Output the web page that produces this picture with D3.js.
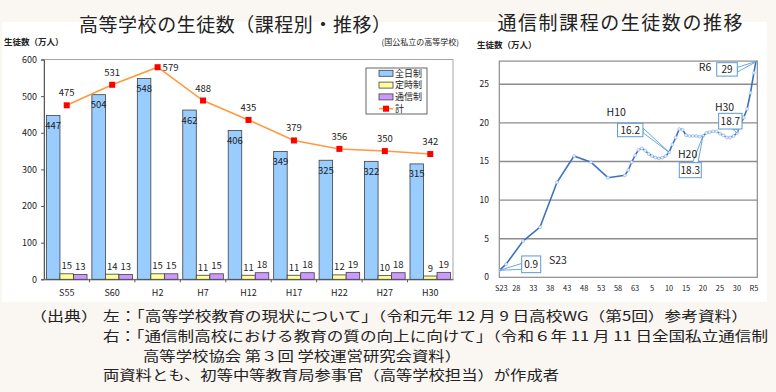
<!DOCTYPE html>
<html>
<head>
<meta charset="utf-8">
<script src="https://cdn.jsdelivr.net/npm/d3@7"></script>
<style>
body { margin: 0; background: #faf6f2; }
svg { display: block; }
text { font-family: "Noto Sans CJK JP", "Noto Sans", sans-serif; fill: #222; }
</style>
</head>
<body>
<div id="chart"></div>
<script>
// left chart: students by course
var periods = ['S55', 'S60', 'H2', 'H7', 'H12', 'H17', 'H22', 'H27', 'H30'];
var fullTime = [447, 504, 548, 462, 406, 349, 325, 322, 315];
var partTime = [15, 14, 15, 11, 11, 11, 12, 10, 9];
var corresp = [13, 13, 15, 15, 18, 18, 19, 18, 19];
var totals = [475, 531, 579, 488, 435, 379, 356, 350, 342];
var leftTicks = [0, 100, 200, 300, 400, 500, 600];
var seriesNames = ['全日制', '定時制', '通信制'];
var totalName = '計';

// right chart: correspondence course students (万人)
var years = [1948, 1950, 1955, 1960, 1965, 1970, 1975, 1980, 1985, 1986, 1987, 1988, 1989,
    1990, 1991, 1992, 1993, 1994, 1995, 1996, 1997, 1998, 1999, 2000, 2001, 2002, 2003,
    2004, 2005, 2006, 2007, 2008, 2009, 2010, 2011, 2012, 2013, 2014, 2015, 2016, 2017,
    2018, 2019, 2020, 2021, 2022, 2023, 2024];
var students = [0.9, 1.7, 4.7, 6.5, 12.3, 15.7, 14.9, 12.9, 13.2, 13.9, 14.9, 15.8, 16.5,
    16.7, 16.4, 16.0, 15.7, 15.5, 15.4, 15.5, 15.7, 16.2, 17.2, 18.1, 19.2, 19.1, 18.4,
    18.3, 18.3, 18.3, 18.2, 18.3, 18.7, 18.8, 18.9, 18.9, 18.6, 18.4, 18.1, 18.1, 18.3,
    18.7, 19.7, 20.7, 21.8, 23.9, 26.5, 29.0];
var yearTicks = [1948, 1953, 1958, 1963, 1968, 1973, 1978, 1983, 1988, 1993, 1998, 2003, 2008, 2013, 2018, 2023];
var yearTickLabels = ['S23', '28', '33', '38', '43', '48', '53', '58', '63', '5', '10', '15', '20', '25', '30', 'R5'];
var rightTicks = [0, 5, 10, 15, 20, 25];
var calloutYears = [1948, 1998, 2008, 2018, 2024];
var calloutNames = ['S23', 'H10', 'H20', 'H30', 'R6'];
var calloutValues = ['0.9', '16.2', '18.3', '18.7', '29'];

var sources = [
    '（出典）',
    '左：「高等学校教育の現状について」（令和元年 12 月 9 日高校WG（第5回）参考資料）',
    '右：「通信制高校における教育の質の向上に向けて」（令和６年 11 月 11 日全国私立通信制',
    '高等学校協会 第３回 学校運営研究会資料）',
    '両資料とも、初等中等教育局参事官（高等学校担当）が作成者'
];

var width = 776;
var height = 392;

var svg = d3.select('#chart').append('svg')
    .attr('width', width)
    .attr('height', height);

svg.append('rect')
    .attr('width', width).attr('height', height)
    .attr('fill', '#faf6f2');

svg.append('rect')
    .attr('x', 2).attr('y', 22)
    .attr('width', 765).attr('height', 280)
    .attr('fill', '#ffffff');

// ---------- left chart ----------
var colors = ['#99ccff', '#ffff99', '#cc99ff'];
var barValues = [fullTime, partTime, corresp];

var lx = d3.scaleBand().domain(periods).range([44, 453]);
var sub = d3.scaleBand().domain(seriesNames).range([0, lx.bandwidth()]).paddingOuter(0.18);
var ly = d3.scaleLinear().domain([0, 600]).range([279.3, 59.5]);

svg.append('text')
    .attr('x', 235).attr('y', 32)
    .attr('text-anchor', 'middle')
    .attr('font-size', 19)
    .attr('textLength', 312)
    .text('高等学校の生徒数（課程別・推移）');

svg.append('text')
    .attr('x', 4).attr('y', 45)
    .attr('font-size', 8.5)
    .attr('font-weight', 'bold')
    .attr('fill', '#444')
    .text('生徒数（万人）');

svg.append('text')
    .attr('x', 459).attr('y', 45)
    .attr('text-anchor', 'end')
    .attr('font-size', 8)
    .text('(国公私立の高等学校)');

// plot frame
svg.append('rect')
    .attr('x', 44).attr('y', ly(600))
    .attr('width', 453 - 44).attr('height', ly(0) - ly(600))
    .attr('fill', 'none')
    .attr('stroke', '#a6a6a6');

var leftAxis = svg.append('g')
    .attr('transform', 'translate(44,0)')
    .call(d3.axisLeft(ly).tickValues(leftTicks).tickSize(3).tickPadding(4));
leftAxis.select('.domain').attr('stroke', '#595959');
leftAxis.selectAll('line').attr('stroke', '#595959');
leftAxis.selectAll('text').attr('font-size', 9).attr('fill', '#333')
    .attr('font-family', '"DejaVu Sans Condensed", "DejaVu Sans", sans-serif');

var bottomAxis = svg.append('g')
    .attr('transform', `translate(0,${ly(0)})`)
    .call(d3.axisBottom(lx).tickSize(0).tickPadding(10));
bottomAxis.select('.domain').attr('stroke', '#595959');
bottomAxis.selectAll('text').attr('font-size', 9).attr('fill', '#333')
    .attr('font-family', '"DejaVu Sans Condensed", "DejaVu Sans", sans-serif');

// tick marks between groups
svg.append('g').selectAll('line')
    .data(periods.slice(1))
    .enter()
    .append('line')
    .attr('x1', (d) => lx(d)).attr('x2', (d) => lx(d))
    .attr('y1', ly(0)).attr('y2', ly(0) + 3)
    .attr('stroke', '#595959');

for (let s = 0; s < 3; s++) {
    let g = svg.append('g');
    g.selectAll('rect')
        .data(periods)
        .enter()
        .append('rect')
        .attr('x', (d) => lx(d) + sub(seriesNames[s]))
        .attr('y', (d, i) => ly(barValues[s][i]))
        .attr('width', sub.bandwidth())
        .attr('height', (d, i) => ly(0) - ly(barValues[s][i]))
        .attr('fill', colors[s])
        .attr('stroke', '#404040')
        .attr('stroke-width', 0.8);

    g.selectAll('text')
        .data(periods)
        .enter()
        .append('text')
        .attr('x', (d) => lx(d) + sub(seriesNames[s]) + sub.bandwidth() / 2)
        .attr('y', (d, i) => s == 0 ? ly(barValues[s][i]) + 13.5 : ly(barValues[s][i]) - 4.5)
        .attr('text-anchor', 'middle')
        .attr('font-size', 9.5)
        .attr('font-family', '"DejaVu Sans Condensed", "DejaVu Sans", sans-serif')
        .attr('fill', '#222')
        .text((d, i) => barValues[s][i]);
}

// total line
var cx = (d) => lx(d) + lx.bandwidth() / 2;
var maxIndex = totals.indexOf(d3.max(totals));

svg.append('path')
    .datum(periods)
    .attr('d', d3.line().x((d) => cx(d)).y((d, i) => ly(totals[i])))
    .attr('fill', 'none')
    .attr('stroke', '#ff9940')
    .attr('stroke-width', 1.5);

svg.append('g').selectAll('rect')
    .data(periods)
    .enter()
    .append('rect')
    .attr('x', (d) => cx(d) - 3)
    .attr('y', (d, i) => ly(totals[i]) - 3)
    .attr('width', 6).attr('height', 6)
    .attr('fill', '#ff0000');

svg.append('g').selectAll('text')
    .data(periods)
    .enter()
    .append('text')
    .attr('x', (d, i) => i == maxIndex ? cx(d) + 5 : cx(d))
    .attr('y', (d, i) => i == maxIndex ? ly(totals[i]) + 3.5 : ly(totals[i]) - 9)
    .attr('text-anchor', (d, i) => i == maxIndex ? 'start' : 'middle')
    .attr('font-size', 9.5)
    .attr('font-family', '"DejaVu Sans Condensed", "DejaVu Sans", sans-serif')
    .text((d, i) => totals[i]);

// legend
var legend = svg.append('g');
legend.append('rect')
    .attr('x', 366).attr('y', 68)
    .attr('width', 61).attr('height', 46)
    .attr('fill', '#fff')
    .attr('stroke', '#404040')
    .attr('stroke-width', 0.8);

var legendNames = seriesNames.concat([totalName]);
legendNames.forEach(function (name, i) {
    let yy = 73.3 + i * 11.8;
    if (i < 3) {
        legend.append('rect')
            .attr('x', 379).attr('y', yy - 3)
            .attr('width', 14).attr('height', 6)
            .attr('fill', colors[i])
            .attr('stroke', '#404040')
            .attr('stroke-width', 0.8);
    } else {
        legend.append('line')
            .attr('x1', 379).attr('x2', 393)
            .attr('y1', yy).attr('y2', yy)
            .attr('stroke', '#ff9940').attr('stroke-width', 1.5);
        legend.append('rect')
            .attr('x', 383).attr('y', yy - 3)
            .attr('width', 6).attr('height', 6)
            .attr('fill', '#ff0000');
    }
    legend.append('text')
        .attr('x', 395).attr('y', yy + 3.3)
        .attr('font-size', 9)
        .text(name);
});

// ---------- right chart ----------
var rx = d3.scaleLinear().domain([1948, 2024]).range([499.3, 757.3]);
var ry = d3.scaleLinear().domain([0, 28]).range([277.3, 61.1]);

svg.append('text')
    .attr('x', 620).attr('y', 30)
    .attr('text-anchor', 'middle')
    .attr('font-size', 19)
    .attr('textLength', 245)
    .text('通信制課程の生徒数の推移');

svg.append('text')
    .attr('x', 477).attr('y', 48)
    .attr('font-size', 8.5)
    .attr('font-weight', 'bold')
    .attr('fill', '#444')
    .text('生徒数（万人）');

svg.append('g').selectAll('line')
    .data(rightTicks.slice(1))
    .enter()
    .append('line')
    .attr('x1', rx(1948)).attr('x2', rx(2024))
    .attr('y1', (d) => ry(d)).attr('y2', (d) => ry(d))
    .attr('stroke', '#8c8c8c')
    .attr('stroke-width', 1.4);

svg.append('rect')
    .attr('x', rx(1948)).attr('y', ry(28))
    .attr('width', rx(2024) - rx(1948)).attr('height', ry(0) - ry(28))
    .attr('fill', 'none')
    .attr('stroke', '#8c8c8c')
    .attr('stroke-width', 1.2);

svg.append('g').selectAll('text')
    .data(rightTicks)
    .enter()
    .append('text')
    .attr('x', 489)
    .attr('y', (d) => ry(d) + 3)
    .attr('text-anchor', 'end')
    .attr('font-size', 8.5)
    .attr('font-family', '"DejaVu Sans Condensed", "DejaVu Sans", sans-serif')
    .attr('fill', '#333')
    .text((d) => d);

svg.append('g').selectAll('text')
    .data(yearTicks)
    .enter()
    .append('text')
    .attr('x', (d) => rx(d) + (d == 1948 ? 2 : 0))
    .attr('y', 291)
    .attr('text-anchor', 'middle')
    .attr('font-size', 7.4)
    .attr('font-family', '"DejaVu Sans Condensed", "DejaVu Sans", sans-serif')
    .attr('fill', '#333')
    .text((d, i) => yearTickLabels[i]);

svg.append('clipPath').attr('id', 'rclip')
    .append('rect')
    .attr('x', rx(1948)).attr('y', ry(28))
    .attr('width', rx(2024) - rx(1948)).attr('height', ry(0) - ry(28));

var rline = svg.append('g').attr('clip-path', 'url(#rclip)');
rline.append('path')
    .datum(years)
    .attr('d', d3.line().x((d) => rx(d)).y((d, i) => ry(students[i])))
    .attr('fill', 'none')
    .attr('stroke', '#3d72c0')
    .attr('stroke-width', 1.6);

rline.selectAll('circle')
    .data(years)
    .enter()
    .append('circle')
    .attr('cx', (d) => rx(d))
    .attr('cy', (d, i) => ry(students[i]))
    .attr('r', 1.5)
    .attr('fill', '#e6f0fa')
    .attr('stroke', '#8fb4e3')
    .attr('stroke-width', 0.6);

// callouts: box offset from point, name offset, pointer side
var calloutLayout = [
    { bx: 22.4, by: -14.4, bw: 19, bh: 16.7, nx: 58.7, ny: -10.4, side: 'left' },
    { bx: -51.5, by: -28.9, bw: 25.4, bh: 13.4, nx: -52.8, ny: -40.5, side: 'right' },
    { bx: -23.7, by: 26.7, bw: 22, bh: 15, nx: -15.4, ny: 18.3, side: 'top' },
    { bx: -18.3, by: -19.6, bw: 23.4, bh: 15.7, nx: -12.4, ny: -25.6, side: 'bottom' },
    { bx: -40.6, by: 1.6, bw: 20.6, bh: 13.4, nx: -52.3, ny: 6, side: 'right' }
];

calloutYears.forEach(function (yr, i) {
    let idx = years.indexOf(yr);
    let px = rx(yr);
    let py = ry(Math.min(students[idx], 28));
    let L = calloutLayout[i];
    let x0 = px + L.bx, y0 = py + L.by;
    let base;
    if (L.side == 'left') base = [[x0, y0 + L.bh * 0.45], [x0, y0 + L.bh * 0.8]];
    else if (L.side == 'right') base = [[x0 + L.bw, y0 + L.bh * 0.35], [x0 + L.bw, y0 + L.bh * 0.7]];
    else if (L.side == 'top') base = [[x0 + L.bw * 0.6, y0], [x0 + L.bw * 0.85, y0]];
    else base = [[x0 + L.bw * 0.6, y0 + L.bh], [x0 + L.bw * 0.85, y0 + L.bh]];

    let g = svg.append('g');
    g.append('polygon')
        .attr('points', [[px, py], base[0], base[1]].map((p) => p.join(',')).join(' '))
        .attr('fill', '#fff')
        .attr('stroke', '#5b9bd5')
        .attr('stroke-width', 0.9);
    g.append('rect')
        .attr('x', x0).attr('y', y0)
        .attr('width', L.bw).attr('height', L.bh)
        .attr('fill', '#fff')
        .attr('stroke', '#5b9bd5')
        .attr('stroke-width', 1);
    g.append('text')
        .attr('x', x0 + L.bw / 2).attr('y', y0 + L.bh / 2 + 3.8)
        .attr('text-anchor', 'middle')
        .attr('font-size', 10)
        .attr('font-family', '"DejaVu Sans", sans-serif')
        .attr('fill', i == 4 ? '#888' : '#222')
        .text(calloutValues[i]);
    g.append('text')
        .attr('x', px + L.nx).attr('y', py + L.ny + 4)
        .attr('text-anchor', 'middle')
        .attr('font-size', 10.5)
        .attr('font-family', '"DejaVu Sans", sans-serif')
        .text(calloutNames[i]);
});

// ---------- sources ----------
var srcX = [30, 103, 103, 143, 103];
var srcY = [321, 321, 341, 360.5, 379.8];
var srcLen = [68, 645, 665, 318, 456];
svg.append('g').selectAll('text')
    .data(sources)
    .enter()
    .append('text')
    .attr('x', (d, i) => srcX[i])
    .attr('y', (d, i) => srcY[i])
    .attr('font-size', 13.2)
    .attr('textLength', (d, i) => srcLen[i])
    .attr('lengthAdjust', 'spacingAndGlyphs')
    .attr('fill', '#111')
    .text((d) => d);
</script>
</body>
</html>
